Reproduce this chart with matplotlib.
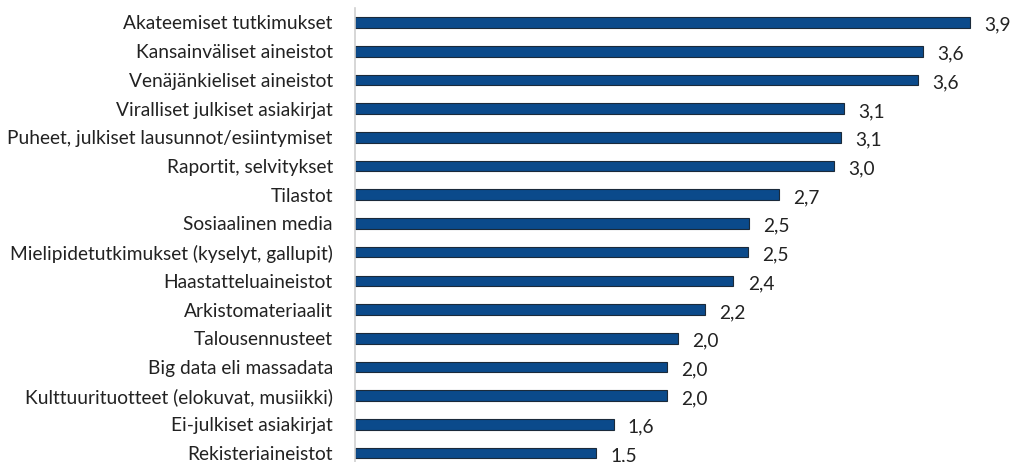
import matplotlib
matplotlib.use("Agg")
import matplotlib.pyplot as plt

# Source categories (top to bottom) and their mean scores
categories = [
    "Akateemiset tutkimukset",
    "Kansainväliset aineistot",
    "Venäjänkieliset aineistot",
    "Viralliset julkiset asiakirjat",
    "Puheet, julkiset lausunnot/esiintymiset",
    "Raportit, selvitykset",
    "Tilastot",
    "Sosiaalinen media",
    "Mielipidetutkimukset (kyselyt, gallupit)",
    "Haastatteluaineistot",
    "Arkistomateriaalit",
    "Talousennusteet",
    "Big data eli massadata",
    "Kulttuurituotteet (elokuvat, musiikki)",
    "Ei-julkiset asiakirjat",
    "Rekisteriaineistot",
]
scores = [3.90, 3.60, 3.57, 3.10, 3.08, 3.04, 2.69, 2.50,
          2.49, 2.40, 2.22, 2.05, 1.98, 1.98, 1.64, 1.53]

plt.rcParams['font.family'] = ['Lato', 'DejaVu Sans']

W, H = 1012, 462
fig = plt.figure(figsize=(W / 100, H / 100), dpi=100)
ax = fig.add_axes([355 / W, 0, (W - 355) / W, (H - 8) / H])

pos = list(range(len(categories)))
ax.barh(pos, scores, height=0.37, color='#0B4A8B', edgecolor='#1B2A3A', linewidth=0.8)

# value labels, Finnish decimal comma
for y, v in zip(pos, scores):
    ax.text(v + 0.09, y + 0.1, f"{v:.1f}".replace(".", ","), va='center', ha='left',
            fontsize=13.8, color='#222222', clip_on=False)

ax.set_yticks(pos)
ax.set_yticklabels(categories, fontsize=13.8, color='#222222')
ax.tick_params(axis='y', length=0, pad=16)
ax.set_xticks([])
ax.set_xlim(0, (W - 355) / 157.7)
ax.set_ylim(15.31, -0.505)

for s in ['top', 'right', 'bottom']:
    ax.spines[s].set_visible(False)
ax.spines['left'].set_color('#D0D0D0')
ax.spines['left'].set_linewidth(1.2)

fig.savefig("out.png", dpi=100)
